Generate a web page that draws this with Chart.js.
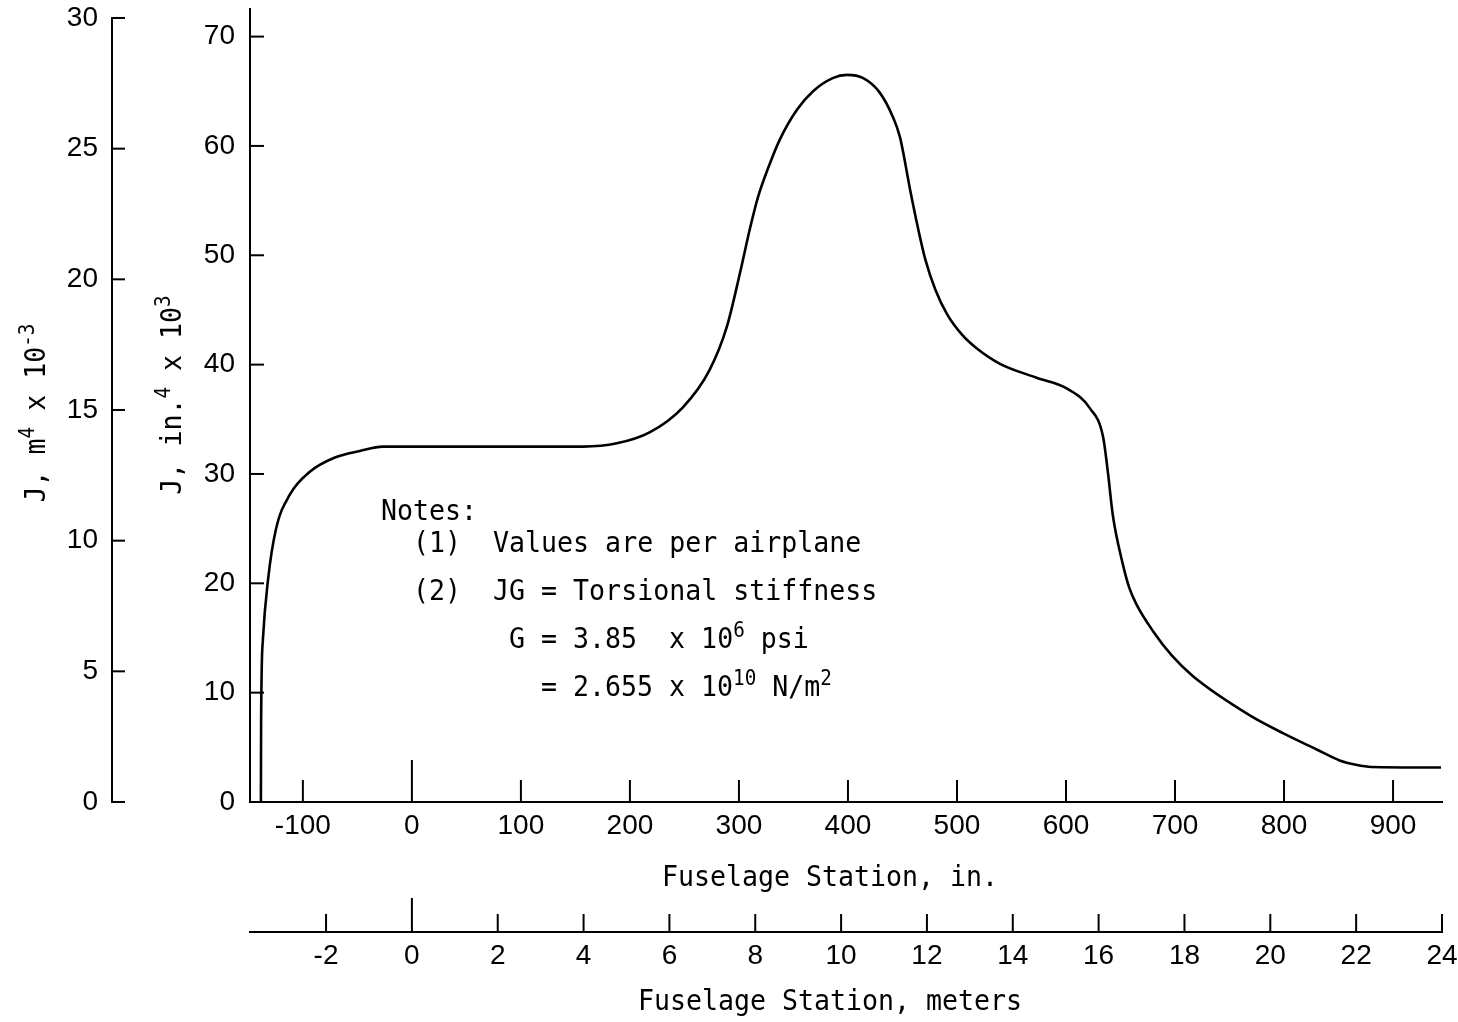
<!DOCTYPE html>
<html lang="en">
<head>
<meta charset="utf-8">
<title>J, fuselage station</title>
<script src="https://cdn.jsdelivr.net/npm/chart.js@4.4.1/dist/chart.umd.min.js"></script>
<style>
  html, body { margin: 0; padding: 0; background: #fff; }
  .cadre { width: 1458px; height: 1022px; position: relative; }
</style>
</head>
<body>
<div class="cadre"><canvas id="chartRigidite"></canvas></div>
<script>
// Station de fuselage (in.) et J (in.^4 x 10^3)
const stations = [-138.5, -138.3, -136.7, -132, -124.8, -112, -93.6, -70.6, -47.7, -26.6, 0, 50, 100, 157,
  188, 218, 248.6, 273, 289, 301, 310, 317.4, 328.4, 337.6, 353.2, 368, 386, 399, 414, 429, 441, 447.7,
  457, 464, 471, 480, 491, 505, 518, 539, 573, 601, 622, 634, 638.5, 643, 652, 658, 665, 680, 697, 716.5,
  769, 799, 830, 851, 866, 880, 944];
const valeursJ = [0, 7.5, 14.8, 20.3, 24.9, 28.1, 30.2, 31.5, 32.1, 32.5, 32.5, 32.5, 32.5, 32.5,
  32.8, 33.8, 36.1, 39.5, 43.5, 48.4, 52.4, 55.3, 58.4, 60.6, 63.3, 65.0, 66.2, 66.5, 66.2, 64.9, 62.7, 60.8,
  56.0, 52.6, 49.6, 46.9, 44.6, 42.7, 41.5, 40.1, 38.8, 37.8, 36.0, 33.4, 30.1, 26.2, 21.8, 19.6, 18.0, 15.6, 13.4, 11.5,
  7.9, 6.3, 4.8, 3.8, 3.4, 3.2, 3.15];

// Graduations
const ticksPouces  = [-100, 0, 100, 200, 300, 400, 500, 600, 700, 800, 900];
const ticksMetres  = [-2, 0, 2, 4, 6, 8, 10, 12, 14, 16, 18, 20, 22, 24];
const ticksJPouces = [0, 10, 20, 30, 40, 50, 60, 70];
const ticksJMetres = [0, 5, 10, 15, 20, 25, 30];

// Bornes des axes
const xMin = -148.5, xMax = 944.9;
const POUCE_EN_M = 0.0254;
const jMax = 71.7, jMaxM = 30;

// Titres : [texte, x fixe, exposant]
const titreX  = [['Fuselage Station, in.']];
const titreXm = [['Fuselage Station, meters']];
const titreY  = [['J, in.'], ['4', null, true], [' x 10'], ['3', null, true]];
const titreYm = [['J, m'], ['4', null, true], [' x 10'], ['-3', null, true]];

// Notes tapées à la machine (pas fixe)
const notes = [
  { y: 520, runs: [['Notes:', 381]] },
  { y: 552, runs: [['(1)  Values are per airplane', 413]] },
  { y: 600, runs: [['(2)  JG = Torsional stiffness', 413]] },
  { y: 648, runs: [['G = 3.85  x 10', 509], ['6', null, true], [' psi']] },
  { y: 696, runs: [['= 2.655 x 10', 541], ['10', null, true], [' N/m'], ['2', null, true]] }
];

const COULEUR = '#000';
const MONO = '"DejaVu Sans Mono", "Liberation Mono", monospace';
const T_TEXTE = 29, T_EXP = 21, MONTEE_EXP = 11, SERRAGE = 0.917;

const police = (exp) => `${exp ? T_EXP : T_TEXTE}px ${MONO}`;

const largeur = (ctx, runs) => runs.reduce((w, [t, , exp]) => {
  ctx.font = police(exp);
  return w + ctx.measureText(t).width * SERRAGE;
}, 0);

const dessinerRuns = (ctx, runs, x0, y) => {
  let x = x0;
  runs.forEach(([t, xFixe, exp]) => {
    if (xFixe != null) x = xFixe;
    ctx.font = police(exp);
    ctx.save();
    ctx.translate(x, exp ? y - MONTEE_EXP : y);
    ctx.scale(SERRAGE, 1);
    ctx.fillText(t, 0, 0);
    ctx.restore();
    x += ctx.measureText(t).width * SERRAGE;
  });
};

// Graduations vers l'intérieur, titres et notes
const habillage = {
  id: 'habillage',
  beforeDraw: (chart) => {
    const { ctx, width, height } = chart;
    ctx.save();
    ctx.fillStyle = '#fff';
    ctx.fillRect(0, 0, width, height);
    ctx.restore();
  },
  afterDraw: (chart) => {
    const { ctx, chartArea: ca, scales } = chart;
    const { x, xM, y, yM } = scales;
    ctx.save();
    ctx.strokeStyle = COULEUR;
    ctx.fillStyle = COULEUR;
    ctx.lineWidth = 2;
    const trait = (x1, y1, x2, y2) => { ctx.beginPath(); ctx.moveTo(x1, y1); ctx.lineTo(x2, y2); ctx.stroke(); };

    x.ticks.forEach(t => {
      const px = x.getPixelForValue(t.value);
      trait(px, x.top, px, x.top - (t.value === 0 ? 42 : 22));
    });
    xM.ticks.forEach(t => {
      const px = xM.getPixelForValue(t.value);
      trait(px, xM.top, px, xM.top - (t.value === 0 ? 34 : 18));
    });
    y.ticks.forEach(t => {
      if (!t.value) return;
      const py = y.getPixelForValue(t.value);
      trait(y.right, py, y.right + 14, py);
    });
    yM.ticks.forEach(t => {
      const py = yM.getPixelForValue(t.value);
      trait(yM.right, py, yM.right + 13, py);
    });
    // l'axe in.^4 dépasse un peu au-dessus de 70
    trait(y.right, ca.top, y.right, ca.top - 10);

    ctx.textAlign = 'left';
    ctx.textBaseline = 'alphabetic';
    const cx = (ca.left + ca.right) / 2 - 16;
    dessinerRuns(ctx, titreX, cx - largeur(ctx, titreX) / 2, x.top + 84);
    dessinerRuns(ctx, titreXm, cx - largeur(ctx, titreXm) / 2, xM.top + 78);

    const titreVertical = (runs, bx, cy) => {
      ctx.save();
      ctx.translate(bx, cy);
      ctx.rotate(-Math.PI / 2);
      dessinerRuns(ctx, runs, -largeur(ctx, runs) / 2, 0);
      ctx.restore();
    };
    const milieu = (ca.top + ca.bottom) / 2;
    titreVertical(titreYm, yM.left + 37, milieu + 3);
    titreVertical(titreY, y.left + 69, milieu - 15);

    notes.forEach(l => dessinerRuns(ctx, l.runs, 0, l.y));
    ctx.restore();
  }
};

const axe = (position, min, max, valeurs, taille, poids, padding) => ({
  type: 'linear', position, min, max, weight: poids,
  grid: { display: false, drawTicks: false },
  border: { display: true, color: COULEUR, width: 2 },
  ticks: {
    color: COULEUR, padding, autoSkip: false, maxRotation: 0,
    font: { family: '"Liberation Sans", Arial, sans-serif', size: 28 },
    callback: v => String(v)
  },
  afterBuildTicks: s => { s.ticks = valeurs.map(value => ({ value })); },
  afterFit: s => {
    if (s.isHorizontal()) s.height = taille; else s.width = taille;
    s.paddingLeft = s.paddingRight = s.paddingTop = s.paddingBottom = 0;
  }
});

new Chart(document.getElementById('chartRigidite'), {
  type: 'scatter',
  data: {
    datasets: [{
      data: stations.map((s, i) => ({ x: s, y: valeursJ[i] })),
      showLine: true,
      borderColor: COULEUR,
      borderWidth: 2.6,
      pointRadius: 0,
      cubicInterpolationMode: 'monotone',
      fill: false,
      xAxisID: 'x',
      yAxisID: 'y'
    }]
  },
  options: {
    responsive: true,
    maintainAspectRatio: false,
    animation: false,
    layout: { padding: { left: 8, right: 16, top: 18, bottom: 4 } },
    plugins: { legend: { display: false }, tooltip: { enabled: false } },
    scales: {
      x:  axe('bottom', xMin, xMax, ticksPouces, 130, 0, 7),
      xM: axe('bottom', xMin * POUCE_EN_M, xMax * POUCE_EN_M, ticksMetres, 86, 1, 7),
      y:  axe('left', 0, jMax, ticksJPouces, 138, 0, 15),
      yM: axe('left', 0, jMaxM, ticksJMetres, 104, 1, 14)
    }
  },
  plugins: [habillage]
});
</script>
</body>
</html>
